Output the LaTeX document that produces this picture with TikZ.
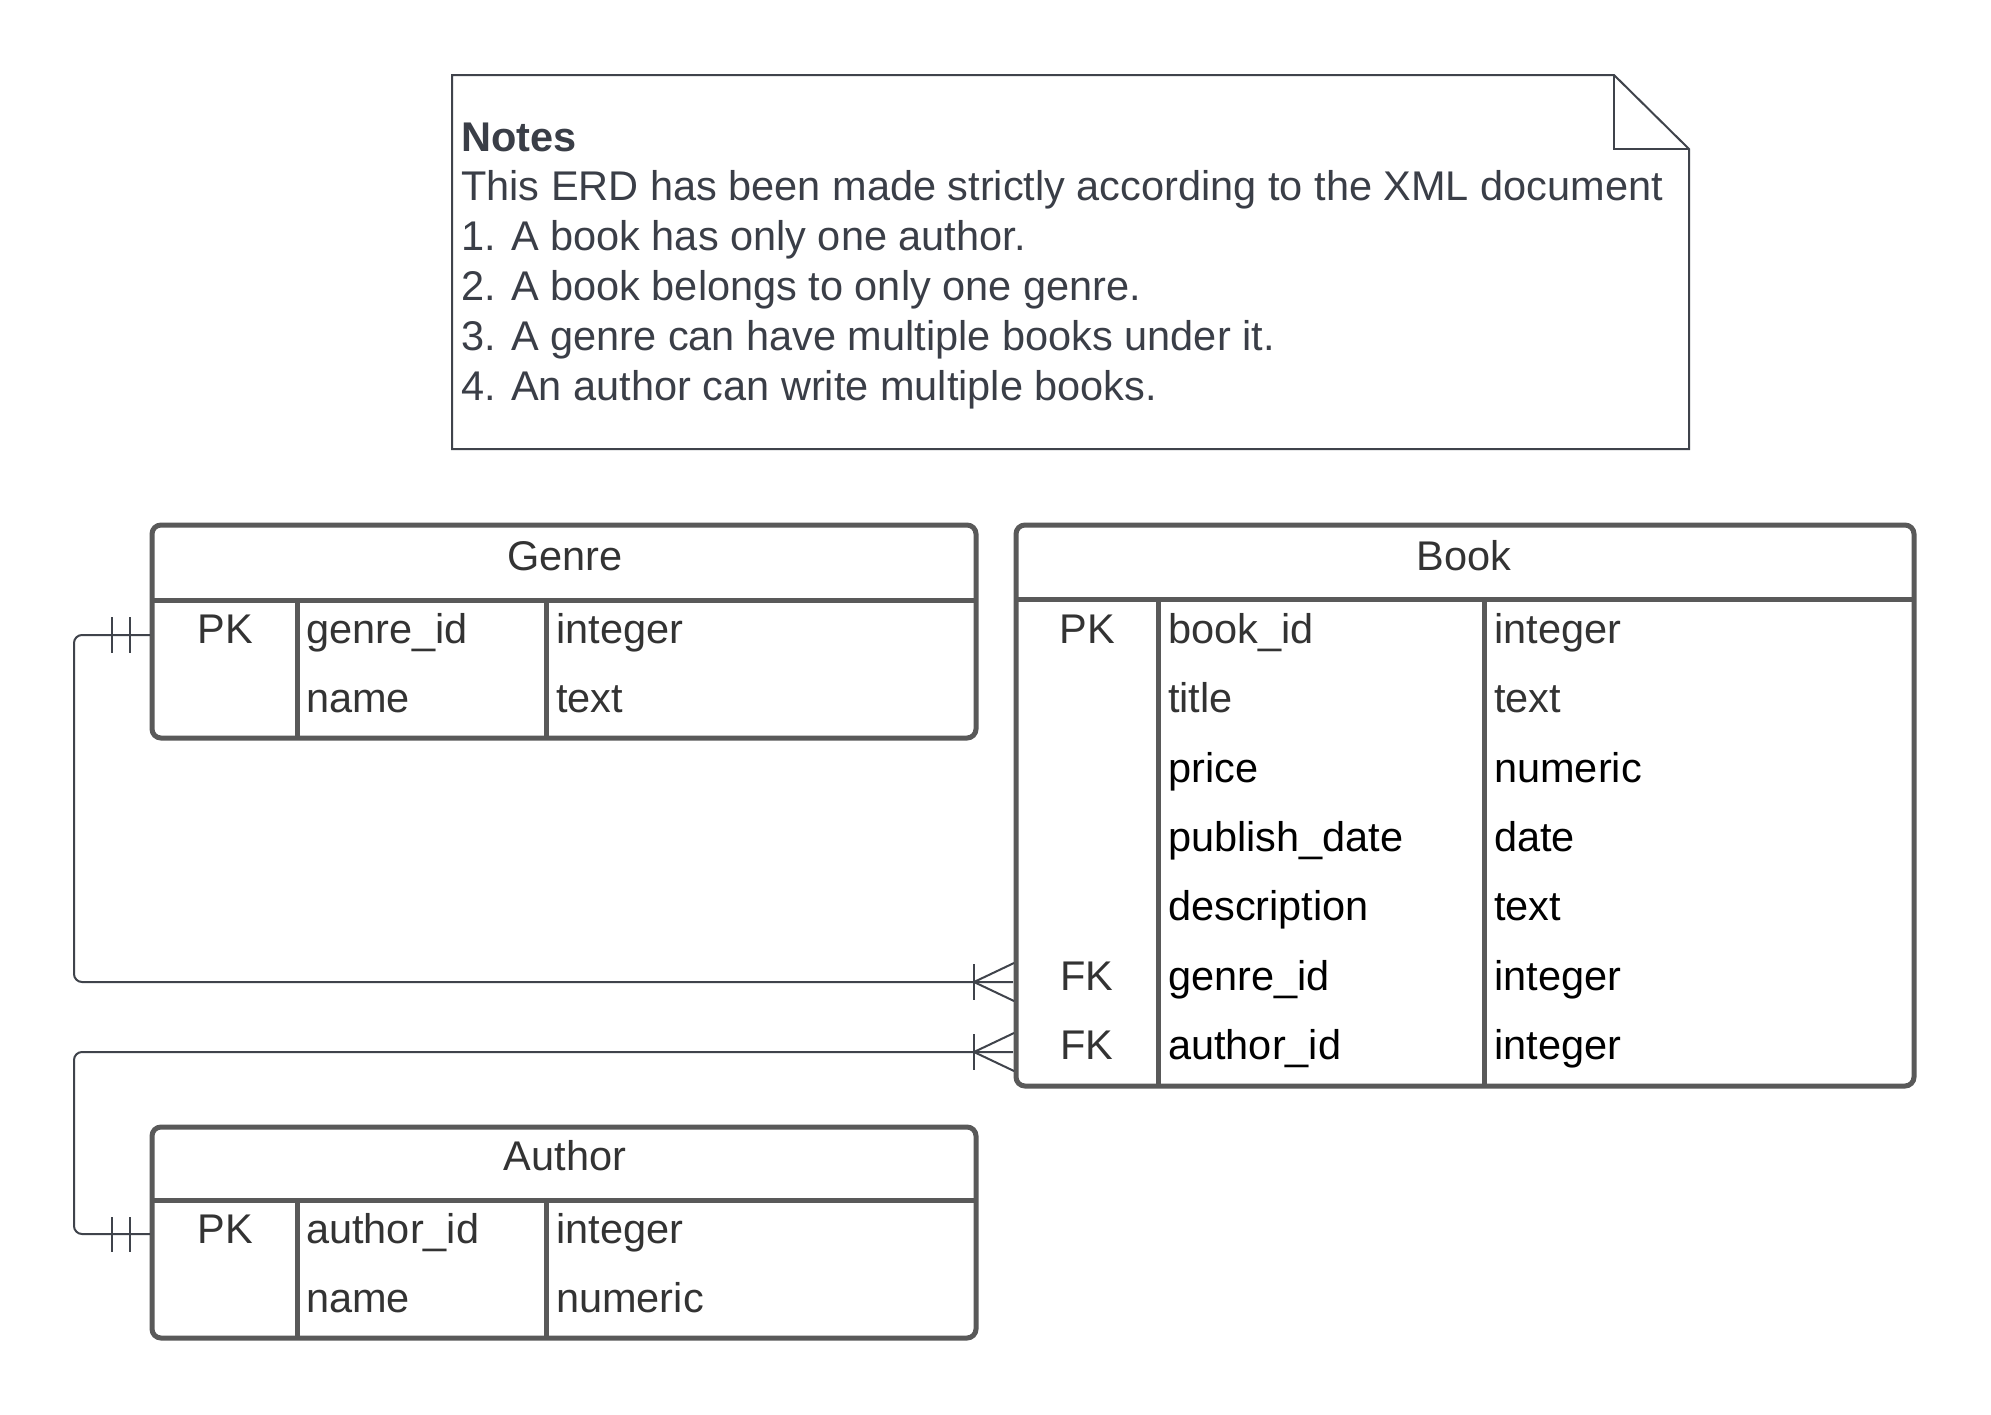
\documentclass[tikz,border=0pt]{standalone}
\usepackage{fontspec}
\setmainfont{Liberation Sans}
\definecolor{bord}{HTML}{595959}
\definecolor{ink}{HTML}{333333}
\definecolor{noteink}{HTML}{3A3E47}
\definecolor{conn}{HTML}{3F434B}
\begin{document}
\begin{tikzpicture}[x=1pt,y=-1pt,
  tbl/.style={draw=bord,line width=5pt,rounded corners=9pt,inner sep=0pt},
  sep/.style={draw=bord,line width=5pt},
  txt/.style={inner sep=0pt,anchor=base,text=ink,font=\fontsize{41.5}{48}\selectfont},
  lft/.style={txt,anchor=base west},
  blk/.style={text=black},
  notetxt/.style={inner sep=0pt,anchor=base west,text=noteink,font=\fontsize{41.5}{48}\selectfont},
  connector/.style={draw=conn,line width=2pt,rounded corners=8pt},
  tick/.style={draw=conn,line width=2pt}]
\useasboundingbox (0,0) rectangle (1991,1414);
\fill[white] (0,0) rectangle (1991,1414);

% Notes
\coordinate (nA) at (452,75);
\coordinate (nB) at (1614,75);
\coordinate (nC) at (1689,149);
\coordinate (nD) at (1689,449);
\coordinate (nE) at (452,449);
\draw[draw=conn,line width=2pt,line join=miter] (nA) -- (nB) -- (nC) -- (nD) -- (nE) -- cycle;
\draw[draw=conn,line width=2pt] (nB) -- (1614,149) -- (nC);
\node[notetxt,font=\fontsize{41.5}{48}\selectfont\bfseries] (n0) at (461,151) {Notes};
\node[notetxt] (n1) at (461,200) {This ERD has been made strictly according to the XML document};
\node[notetxt] (n2) at (461,250) {1. A book has only one author.};
\node[notetxt] (n3) at (461,300) {2. A book belongs to only one genre.};
\node[notetxt] (n4) at (461,350) {3. A genre can have multiple books under it.};
\node[notetxt] (n5) at (461,400) {4. An author can write multiple books.};

% Genre table
\node[tbl,minimum width=824pt,minimum height=213pt] (genre) at (564,631.5) {};
\draw[sep] (152,600) -- (976,600);
\draw[sep] (297,600) -- (297,738);
\draw[sep] (546,600) -- (546,738);
\node[txt] (gh) at (565,570) {Genre};
\node[txt] (g1k) at (225,643) {PK};
\node[lft] (g1n) at (306,643) {genre\_id};
\node[lft] (g1t) at (556,643) {integer};
\node[lft] (g2n) at (306,712) {name};
\node[lft] (g2t) at (556,712) {text};

% Book table
\node[tbl,minimum width=898pt,minimum height=561pt] (book) at (1465,805.5) {};
\draw[sep] (1016,599) -- (1914,599);
\draw[sep] (1158,599) -- (1158,1086);
\draw[sep] (1484,599) -- (1484,1086);
\node[txt] (bh) at (1464,570) {Book};
\node[txt] (b1k) at (1087,643) {PK};
\node[lft] (b1n) at (1168,643) {book\_id};
\node[lft] (b1t) at (1494,643) {integer};
\node[lft] (b2n) at (1168,712.5) {title};
\node[lft] (b2t) at (1494,712.5) {text};
\node[lft,blk] (b3n) at (1168,782) {price};
\node[lft,blk] (b3t) at (1494,782) {numeric};
\node[lft,blk] (b4n) at (1168,851) {publish\_date};
\node[lft,blk] (b4t) at (1494,851) {date};
\node[lft,blk] (b5n) at (1168,920.5) {description};
\node[lft,blk] (b5t) at (1494,920.5) {text};
\node[txt] (b6k) at (1087,990) {FK};
\node[lft,blk] (b6n) at (1168,990) {genre\_id};
\node[lft,blk] (b6t) at (1494,990) {integer};
\node[txt] (b7k) at (1087,1059) {FK};
\node[lft,blk] (b7n) at (1168,1059) {author\_id};
\node[lft,blk] (b7t) at (1494,1059) {integer};

% Author table
\node[tbl,minimum width=824pt,minimum height=211pt] (author) at (564,1232.5) {};
\draw[sep] (152,1200) -- (976,1200);
\draw[sep] (297,1200) -- (297,1338);
\draw[sep] (546,1200) -- (546,1338);
\node[txt] (ah) at (565,1170) {Author};
\node[txt] (a1k) at (225,1243) {PK};
\node[lft] (a1n) at (306,1243) {author\_id};
\node[lft] (a1t) at (556,1243) {integer};
\node[lft] (a2n) at (306,1312) {name};
\node[lft] (a2t) at (556,1312) {numeric};

% Connectors
\coordinate (gA) at (150,635);
\coordinate (bG) at (1013,982);
\coordinate (bA) at (1013,1052);
\coordinate (aA) at (150,1234);
\draw[connector] (gA) -- (74,635) -- (74,982) -- (bG);
\draw[connector] (bA) -- (74,1052) -- (74,1234) -- (aA);

% one-and-only-one marks
\draw[tick] (112,617) -- (112,653);
\draw[tick] (130,617) -- (130,653);
\draw[tick] (112,1217) -- (112,1252);
\draw[tick] (130,1217) -- (130,1252);

% crow's feet (many)
\draw[tick] (974,964) -- (974,1000);
\draw[tick] (1014,963) -- (974,982) -- (1014,1001);
\draw[tick] (974,1034) -- (974,1070);
\draw[tick] (1014,1033) -- (974,1052) -- (1014,1071);
\end{tikzpicture}
\end{document}
